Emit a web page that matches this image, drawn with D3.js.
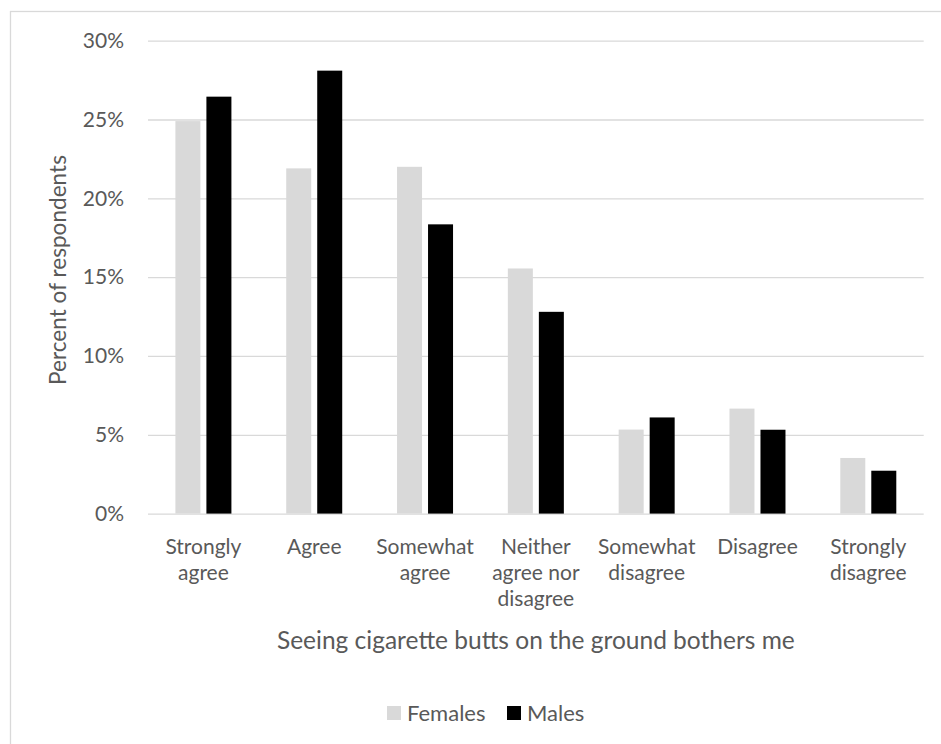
<!DOCTYPE html>
<html>
<head>
<meta charset="utf-8">
<script src="https://cdn.jsdelivr.net/npm/d3@7"></script>
<style>
  html, body { margin: 0; padding: 0; background: #fff; }
  svg { display: block; }
  text { font-family: Lato, "Open Sans", sans-serif; fill: #595959; }
</style>
</head>
<body>
<svg id="chart" width="941" height="744"></svg>
<script>
// Survey responses: "Seeing cigarette butts on the ground bothers me"
const categories = [
  "Strongly agree",
  "Agree",
  "Somewhat agree",
  "Neither agree nor disagree",
  "Somewhat disagree",
  "Disagree",
  "Strongly disagree"
];
// wrapped tick labels, one entry per category
const categoryLines = [
  ["Strongly", "agree"],
  ["Agree"],
  ["Somewhat", "agree"],
  ["Neither", "agree nor", "disagree"],
  ["Somewhat", "disagree"],
  ["Disagree"],
  ["Strongly", "disagree"]
];
const seriesNames = ["Females", "Males"];
const females = [24.9, 21.9, 22.0, 15.55, 5.33, 6.66, 3.53];
const males   = [26.45, 28.1, 18.35, 12.8, 6.1, 5.32, 2.72];
const yTicks = [0, 5, 10, 15, 20, 25, 30];

const colors = { Females: "#d9d9d9", Males: "#000000" };
const fontSize = 21;

const svg = d3.select("#chart");

// outer chart frame
svg.append("rect")
  .attr("x", 10.5).attr("y", 11.5)
  .attr("width", 1000).attr("height", 1000)
  .attr("fill", "none").attr("stroke", "#d9d9d9").attr("stroke-width", 1.3);

const plot = { left: 148, right: 923.7, top: 40.7, bottom: 513.6 };

const x = d3.scaleBand()
  .domain(categories)
  .range([plot.left, plot.right])
  .paddingInner(0).paddingOuter(0);

const xInner = d3.scaleBand()
  .domain(seriesNames)
  .range([0, x.bandwidth()])
  .paddingInner(6 / 31)
  .paddingOuter(0.884);

const y = d3.scaleLinear()
  .domain([0, 30])
  .range([plot.bottom, plot.top]);

// gridlines and percentage ticks
const yAxis = d3.axisLeft(y)
  .tickValues(yTicks)
  .tickSize(-(plot.right - plot.left))
  .tickPadding(24)
  .tickFormat(d => d + "%");

const gy = svg.append("g")
  .attr("transform", `translate(${plot.left},0)`)
  .call(yAxis);
gy.select(".domain").remove();
gy.selectAll(".tick line")
  .attr("stroke", "#d9d9d9").attr("stroke-width", 1.3);
gy.selectAll(".tick text")
  .attr("font-size", fontSize)
  .style("font-family", "Lato, 'Open Sans', sans-serif")
  .attr("fill", "#595959");

// bars
const rows = categories.map((c, i) => ({ category: c, Females: females[i], Males: males[i] }));

const groups = svg.append("g").selectAll("g")
  .data(rows)
  .join("g")
  .attr("transform", d => `translate(${x(d.category)},0)`);

groups.selectAll("rect")
  .data(d => seriesNames.map(s => ({ series: s, value: d[s] })))
  .join("rect")
  .attr("x", d => xInner(d.series))
  .attr("width", xInner.bandwidth())
  .attr("y", d => y(d.value))
  .attr("height", d => y(0) - y(d.value))
  .attr("fill", d => colors[d.series]);

// category labels (wrapped)
const lineHeight = 26;
const labels = svg.append("g").selectAll("text")
  .data(categories)
  .join("text")
  .attr("text-anchor", "middle")
  .attr("font-size", fontSize)
  .attr("x", d => x(d) + x.bandwidth() / 2)
  .attr("y", 554);
labels.each(function (d, i) {
  d3.select(this).selectAll("tspan")
    .data(categoryLines[i])
    .join("tspan")
    .attr("x", x(d) + x.bandwidth() / 2)
    .attr("dy", (t, j) => j === 0 ? 0 : lineHeight)
    .text(t => t);
});

// axis titles
svg.append("text")
  .attr("text-anchor", "middle")
  .attr("font-size", 24.5)
  .attr("x", (plot.left + plot.right) / 2)
  .attr("y", 649)
  .text("Seeing cigarette butts on the ground bothers me");

svg.append("text")
  .attr("text-anchor", "middle")
  .attr("font-size", 22.6)
  .attr("transform", "translate(66,270) rotate(-90)")
  .text("Percent of respondents");

// legend
const legend = svg.append("g").attr("transform", "translate(387,706)");
const legendX = [0, 120];
seriesNames.forEach((s, i) => {
  const g = legend.append("g").attr("transform", `translate(${legendX[i]},0)`);
  g.append("rect").attr("width", 14).attr("height", 14).attr("fill", colors[s]);
  g.append("text")
    .attr("x", 20).attr("y", 14.5)
    .attr("font-size", 22)
    .text(s);
});
</script>
</body>
</html>
